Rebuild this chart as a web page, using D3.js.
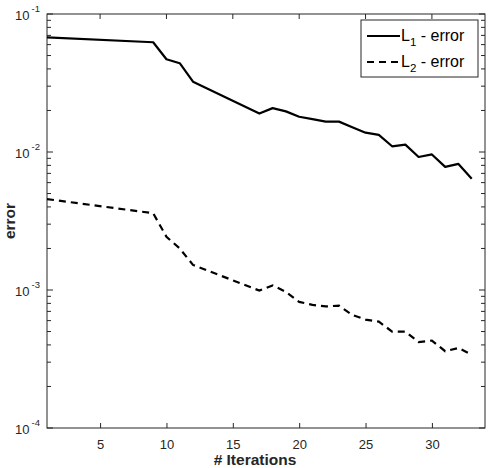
<!DOCTYPE html>
<html>
<head>
<meta charset="utf-8">
<script src="https://cdn.jsdelivr.net/npm/d3@7"></script>
<style>
  body { margin: 0; background: #fff; }
  text { font-family: 'Liberation Sans', Arial, sans-serif; }
</style>
</head>
<body>
<div id="chart"></div>
<script>
// iterations (gap between 1-9 and 12-17 as in the original)
const iterations = [1, 9, 10, 11, 12, 17, 18, 19, 20, 21, 22, 23, 24, 25, 26, 27, 28, 29, 30, 31, 32, 33]
const l1Error = [0.0678, 0.0624, 0.047, 0.044, 0.0323, 0.0190, 0.0208, 0.0197, 0.0180, 0.0173, 0.0166, 0.0166,
  0.0151, 0.0138, 0.0133, 0.0110, 0.0113, 0.0092, 0.0096, 0.0078, 0.0082, 0.0064]
const l2Error = [0.00456, 0.0036, 0.00243, 0.0020, 0.00152, 0.00099, 0.00108, 0.00097, 0.00082, 0.00078, 0.00076,
  0.00077, 0.00066, 0.00061, 0.00059, 0.0005, 0.0005, 0.00042, 0.00043, 0.00036, 0.00038, 0.00034]
const xTicks = [5, 10, 15, 20, 25, 30]
const yExponents = [-4, -3, -2, -1]

const margin = { top: 14, left: 47, right: 4, bottom: 40 }
const totalWidth = 489
const totalHeight = 468
const width = totalWidth - margin.left - margin.right
const height = totalHeight - margin.top - margin.bottom

const svg = d3.select('#chart')
  .append('svg')
  .attr('width', totalWidth)
  .attr('height', totalHeight)

const g = svg.append('g')
  .attr('transform', 'translate(' + margin.left + ',' + margin.top + ')')

const xPositionScale = d3.scaleLinear().domain([1, 34]).range([0, width])
const yPositionScale = d3.scaleLog().domain([1e-4, 1e-1]).range([height, 0])

// minor ticks for log axis
const minorTicks = []
yExponents.slice(0, -1).forEach(e => {
  for (let k = 2; k <= 9; k++) minorTicks.push(k * Math.pow(10, e))
})
const majorTicks = yExponents.map(e => Math.pow(10, e))

const tickColor = '#262626'

// y ticks, left and right, inward
const yTickGroup = g.append('g')
minorTicks.forEach(v => {
  const y = yPositionScale(v)
  yTickGroup.append('line').attr('x1', 0).attr('x2', 4).attr('y1', y).attr('y2', y)
  yTickGroup.append('line').attr('x1', width).attr('x2', width - 4).attr('y1', y).attr('y2', y)
})
majorTicks.forEach(v => {
  const y = yPositionScale(v)
  yTickGroup.append('line').attr('x1', 0).attr('x2', 6).attr('y1', y).attr('y2', y)
  yTickGroup.append('line').attr('x1', width).attr('x2', width - 6).attr('y1', y).attr('y2', y)
})
yTickGroup.selectAll('line').attr('stroke', tickColor).attr('stroke-width', 1)

// y tick labels 10^e
yExponents.forEach(e => {
  const t = g.append('text')
    .attr('x', -7)
    .attr('y', yPositionScale(Math.pow(10, e)) + 6)
    .attr('text-anchor', 'end')
    .attr('font-size', 13)
    .attr('fill', tickColor)
  t.append('tspan').text('10')
  t.append('tspan').text(e).attr('font-size', 9.5).attr('dx', 2).attr('dy', -8)
})

// x ticks bottom and top, inward
const xAxis = d3.axisBottom(xPositionScale).tickValues(xTicks).tickSize(-5).tickPadding(12)
g.append('g')
  .attr('class', 'axis x-axis')
  .attr('transform', 'translate(0,' + height + ')')
  .call(xAxis)
  .call(s => s.select('.domain').remove())

const xTop = g.append('g')
xTicks.forEach(v => {
  xTop.append('line')
    .attr('x1', xPositionScale(v)).attr('x2', xPositionScale(v))
    .attr('y1', 0).attr('y2', 5)
    .attr('stroke', tickColor)
})

g.selectAll('.x-axis text')
  .attr('font-size', 13)
  .attr('fill', tickColor)
  .attr('font-family', "'Liberation Sans', Arial, sans-serif")
g.selectAll('.x-axis line').attr('stroke', tickColor)

// box
g.append('rect')
  .attr('width', width)
  .attr('height', height)
  .attr('fill', 'none')
  .attr('stroke', tickColor)
  .attr('stroke-width', 1)

const l1Line = d3.line()
  .x((d, i) => xPositionScale(iterations[i]))
  .y(d => yPositionScale(d))

g.append('path')
  .attr('d', l1Line(l1Error))
  .attr('fill', 'none')
  .attr('stroke', '#000')
  .attr('stroke-width', 2.2)
  .attr('stroke-linejoin', 'round')

g.append('path')
  .attr('d', l1Line(l2Error))
  .attr('fill', 'none')
  .attr('stroke', '#000')
  .attr('stroke-width', 2.2)
  .attr('stroke-dasharray', '7,5')

// axis labels
svg.append('text')
  .text('# Iterations')
  .attr('x', 255)
  .attr('y', 465)
  .attr('text-anchor', 'middle')
  .attr('font-size', 15.5)
  .attr('font-weight', 'bold')
  .attr('fill', tickColor)

svg.append('text')
  .text('error')
  .attr('transform', 'translate(15,221) rotate(-90)')
  .attr('text-anchor', 'middle')
  .attr('font-size', 15.5)
  .attr('font-weight', 'bold')
  .attr('fill', tickColor)

// legend
const legend = svg.append('g').attr('transform', 'translate(361,20)')
legend.append('rect')
  .attr('width', 117)
  .attr('height', 57)
  .attr('fill', '#fff')
  .attr('stroke', tickColor)
  .attr('stroke-width', 1)

const legendItems = [
  { sub: '1', dash: null, y: 16 },
  { sub: '2', dash: '7,5', y: 42 }
]
legendItems.forEach(item => {
  legend.append('line')
    .attr('x1', 6).attr('x2', 39)
    .attr('y1', item.y).attr('y2', item.y)
    .attr('stroke', '#000')
    .attr('stroke-width', 2)
    .attr('stroke-dasharray', item.dash)
  const t = legend.append('text')
    .attr('x', 40)
    .attr('y', item.y + 5)
    .attr('font-size', 16)
    .attr('fill', '#000')
  t.append('tspan').text('L')
  t.append('tspan').text(item.sub).attr('font-size', 11.5).attr('dy', 5)
  t.append('tspan').text(' - error').attr('dy', -5)
})
</script>
</body>
</html>
